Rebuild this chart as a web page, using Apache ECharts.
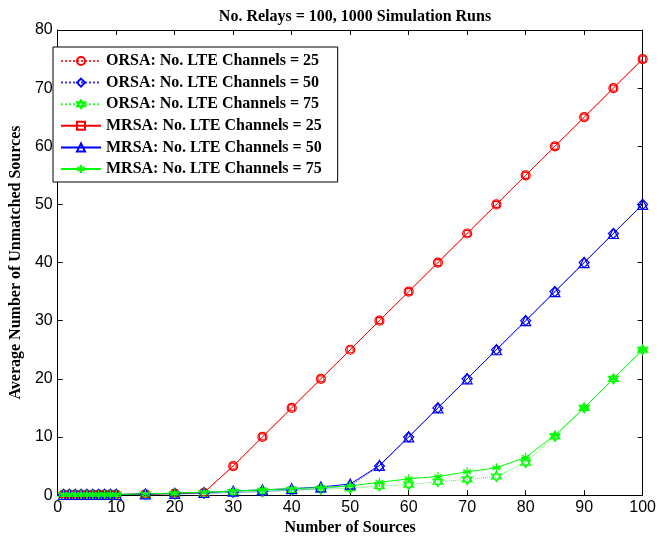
<!DOCTYPE html>
<html>
<head>
<meta charset="utf-8">
<script src="https://cdn.jsdelivr.net/npm/echarts@6/dist/echarts.min.js"></script>
<style>html,body{margin:0;padding:0;background:#fff}#c{width:659px;height:541px}</style>
</head>
<body>
<div id="c"></div>
<script>
var titleText = 'No. Relays = 100, 1000 Simulation Runs';
var xName = 'Number of Sources';
var yName = 'Average Number of Unmatched Sources';
var xs = [1,2,3,4,5,6,7,8,9,10,15,20,25,30,35,40,45,50,55,60,65,70,75,80,85,90,95,100];
var orsa25 = [0.1,0.1,0.1,0.1,0.1,0.1,0.1,0.1,0.1,0.1,0.15,0.25,0.4,5,10,15,20,25,30,35,40,45,50,55,60,65,70,75];
var orsa50 = [0.1,0.1,0.1,0.1,0.1,0.1,0.1,0.1,0.1,0.1,0.15,0.2,0.3,0.45,0.6,0.85,1.1,1.6,5,10,15,20,25,30,35,40,45,50];
var orsa75 = [0.1,0.1,0.1,0.1,0.1,0.1,0.1,0.1,0.1,0.1,0.15,0.2,0.35,0.5,0.65,0.85,1.0,1.2,1.6,1.8,2.3,2.7,3.2,5.6,10.1,15,20,25];
var mrsa25 = [0.1,0.1,0.1,0.1,0.1,0.1,0.1,0.1,0.1,0.1,0.15,0.3,0.45,5,10,15,20,25,30,35,40,45,50,55,60,65,70,75];
var mrsa50 = [0.1,0.1,0.1,0.1,0.1,0.1,0.1,0.1,0.1,0.1,0.2,0.3,0.45,0.7,0.9,1.1,1.4,1.9,5.1,10,15,20,25,30,35,40,45,50];
var mrsa75 = [0.1,0.1,0.1,0.1,0.1,0.1,0.1,0.1,0.1,0.1,0.2,0.35,0.5,0.7,0.9,1.1,1.3,1.6,2.2,2.8,3.2,4.0,4.7,6.5,10.3,15,20,25];
var names = ['ORSA: No. LTE Channels = 25','ORSA: No. LTE Channels = 50','ORSA: No. LTE Channels = 75',
             'MRSA: No. LTE Channels = 25','MRSA: No. LTE Channels = 50','MRSA: No. LTE Channels = 75'];

function pairs(v){ return xs.map(function(x,i){ return [x, v[i]]; }); }
var circle = 'path://M1,0A1,1,0,1,1,-1,0A1,1,0,1,1,1,0Z';
var diamond = 'path://M0,-1L1,0L0,1L-1,0Z';
var square = 'path://M-1,-1L1,-1L1,1L-1,1Z';
var triangle = 'path://M0,-1L1,0.75L-1,0.75Z';
var hexagram = 'path://M0,-1L0.866,0.5L-0.866,0.5Z M0,1L0.866,-0.5L-0.866,-0.5Z';
var asterisk = 'path://M0,-1L0,1M-0.866,-0.5L0.866,0.5M-0.866,0.5L0.866,-0.5M-1,0L1,0';

function mk(name, data, color, symbol, dotted, size){
  return {
    name: name, type: 'line', data: pairs(data), symbol: symbol, symbolSize: size,
    lineStyle: {color: color, width: 1, type: dotted ? 'dotted' : 'solid', opacity: dotted ? 0.8 : 1},
    itemStyle: {color: 'rgba(0,0,0,0)', borderColor: color, borderWidth: 1.2},
    emphasis: {disabled: true}, animation: false
  };
}

var chart = echarts.init(document.getElementById('c'), null, {renderer: 'canvas'});
var axisFont = {fontFamily: 'Liberation Sans', fontSize: 16, color: '#000'};
var serif = {fontFamily: 'Liberation Serif', fontWeight: 'bold', fontSize: 16, color: '#000'};
chart.setOption({
  animation: false,
  backgroundColor: '#fff',
  title: {text: titleText, left: 350, textAlign: 'center', top: 4, textStyle: serif},
  grid: {left: 52, right: 10, top: 30, bottom: 42, containLabel: false},
  legend: {
    orient: 'vertical', left: 53, top: 47, data: names,
    backgroundColor: '#fff', borderColor: '#000', borderWidth: 1,
    padding: [6, 16, 5, 7], itemWidth: 40, itemHeight: 10, itemGap: 5.6,
    textStyle: Object.assign({lineHeight: 16}, serif),
    selectedMode: false
  },
  xAxis: [{
    type: 'value', min: 0, max: 100, interval: 10,
    name: xName, nameLocation: 'middle', nameGap: 22, nameTextStyle: serif,
    axisLine: {onZero: false, lineStyle: {color: '#000', width: 1}},
    axisTick: {inside: true, length: 5, lineStyle: {color: '#000'}},
    axisLabel: Object.assign({margin: 4}, axisFont),
    splitLine: {show: false}
  }, {
    type: 'value', min: 0, max: 100, interval: 10, position: 'top',
    axisLine: {onZero: false, lineStyle: {color: '#000', width: 1}},
    axisTick: {inside: true, length: 5, lineStyle: {color: '#000'}},
    axisLabel: {show: false}, splitLine: {show: false}
  }],
  yAxis: [{
    type: 'value', min: 0, max: 80, interval: 10,
    name: yName, nameLocation: 'middle', nameGap: 29, nameRotate: 90, nameTextStyle: serif,
    axisLine: {show: true, onZero: false, lineStyle: {color: '#000', width: 1}},
    axisTick: {show: true, inside: true, length: 5, lineStyle: {color: '#000'}},
    axisLabel: Object.assign({margin: 5}, axisFont),
    splitLine: {show: false}
  }, {
    type: 'value', min: 0, max: 80, interval: 10, position: 'right',
    axisLine: {show: true, onZero: false, lineStyle: {color: '#000', width: 1}},
    axisTick: {show: true, inside: true, length: 5, lineStyle: {color: '#000'}},
    axisLabel: {show: false}, splitLine: {show: false}
  }],
  series: [
    mk(names[0], orsa25, '#ff0000', circle, true, 9),
    mk(names[1], orsa50, '#0000ff', diamond, true, 10),
    mk(names[2], orsa75, '#00ff00', hexagram, true, 10),
    mk(names[3], mrsa25, '#ff0000', square, false, 6),
    mk(names[4], mrsa50, '#0000ff', triangle, false, 10),
    mk(names[5], mrsa75, '#00ff00', asterisk, false, 9)
  ]
});
</script>
</body>
</html>
